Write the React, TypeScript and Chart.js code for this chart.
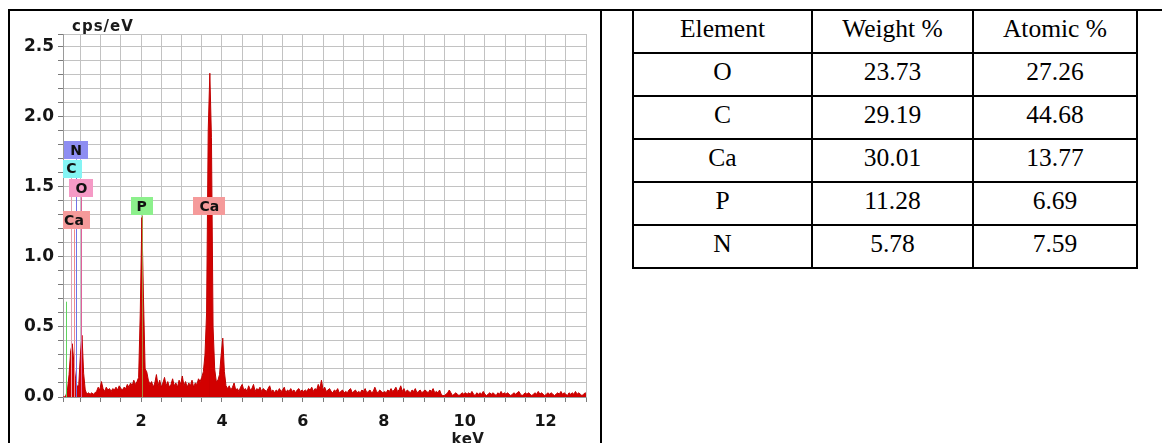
import React, { useEffect, useRef } from 'react';
import { Chart, registerables } from 'chart.js';

Chart.register(...registerables);

// ---- EDS spectrum (cps/eV per 0.04 keV channel, first channel at 0.06 keV) ----
const channelStartKeV = 0.06;
const channelWidthKeV = 0.04;
const countsPerEV = [
  // 0.06 - 1.02 keV
  0, 0, 0.01, 0.05, 0.16, 0.33, 0.38, 0.24, 0.13, 0.07, 0.09, 0.30, 0.44, 0.17, 0.05, 0.02, 0.03, 0.02, 0.03, 0.02, 0.03, 0.04, 0.07, 0.05, 0.11,
  // 1.06 - 2.02
  0.06, 0.04, 0.07, 0.05, 0.06, 0.04, 0.06, 0.05, 0.07, 0.05, 0.08, 0.06, 0.05, 0.07, 0.06, 0.09, 0.07, 0.10, 0.08, 0.12, 0.09, 0.11, 0.14, 0.60, 1.28,
  // 2.06 - 3.02
  0.70, 0.20, 0.18, 0.12, 0.09, 0.11, 0.07, 0.10, 0.16, 0.08, 0.12, 0.07, 0.10, 0.14, 0.08, 0.11, 0.07, 0.09, 0.13, 0.08, 0.10, 0.07, 0.12, 0.09, 0.15,
  // 3.06 - 4.02
  0.08, 0.11, 0.07, 0.10, 0.08, 0.12, 0.07, 0.10, 0.09, 0.13, 0.11, 0.14, 0.18, 0.30, 0.60, 1.90, 2.31, 1.85, 0.50, 0.20, 0.11, 0.12, 0.16, 0.30, 0.42,
  // 4.06 - 5.02
  0.18, 0.08, 0.06, 0.08, 0.05, 0.07, 0.10, 0.05, 0.06, 0.04, 0.07, 0.09, 0.05, 0.06, 0.04, 0.08, 0.05, 0.06, 0.09, 0.04, 0.06, 0.05, 0.07, 0.04, 0.06,
  // 5.06 - 6.02
  0.05, 0.04, 0.06, 0.08, 0.04, 0.05, 0.03, 0.05, 0.04, 0.06, 0.04, 0.05, 0.07, 0.03, 0.05, 0.04, 0.06, 0.04, 0.05, 0.03, 0.05, 0.06, 0.04, 0.05, 0.04,
  // 6.06 - 7.02
  0.05, 0.04, 0.06, 0.05, 0.07, 0.04, 0.06, 0.05, 0.09, 0.06, 0.12, 0.05, 0.07, 0.04, 0.05, 0.06, 0.04, 0.03, 0.05, 0.04, 0.06, 0.03, 0.04, 0.05, 0.03,
  // 7.06 - 8.02
  0.04, 0.03, 0.05, 0.06, 0.03, 0.04, 0.05, 0.03, 0.04, 0.03, 0.05, 0.04, 0.06, 0.03, 0.04, 0.05, 0.03, 0.04, 0.07, 0.04, 0.03, 0.05, 0.04, 0.03, 0.04,
  // 8.06 - 9.02
  0.03, 0.05, 0.04, 0.06, 0.04, 0.05, 0.07, 0.04, 0.05, 0.08, 0.04, 0.06, 0.03, 0.05, 0.04, 0.03, 0.05, 0.04, 0.06, 0.03, 0.04, 0.05, 0.03, 0.04, 0.05,
  // 9.06 - 10.02
  0.04, 0.03, 0.05, 0.04, 0.06, 0.03, 0.04, 0.03, 0.05, 0.02, 0.01, 0.01, 0.02, 0.03, 0.05, 0.03, 0.01, 0.02, 0.03, 0.02, 0.01, 0.02, 0.03, 0.02, 0.03,
  // 10.06 - 11.02
  0.02, 0.03, 0.02, 0.04, 0.02, 0.01, 0.03, 0.02, 0.03, 0.02, 0.04, 0.02, 0.01, 0.02, 0.03, 0.02, 0.03, 0.02, 0.01, 0.03, 0.02, 0.04, 0.02, 0.03, 0.02,
  // 11.06 - 12.02
  0.03, 0.02, 0.01, 0.02, 0.03, 0.02, 0.03, 0.04, 0.02, 0.01, 0.02, 0.03, 0.02, 0.03, 0.02, 0.01, 0.02, 0.03, 0.02, 0.04, 0.02, 0.03, 0.02, 0.01, 0.02,
  // 12.06 - 13.02
  0.03, 0.02, 0.03, 0.02, 0.01, 0.02, 0.03, 0.02, 0.04, 0.02, 0.03, 0.02, 0.01, 0.03, 0.02, 0.03, 0.02, 0.04, 0.02, 0.03, 0.02, 0.01, 0.02, 0.03, 0.02,
];

// ---- axes ----
const xRangeKeV = [0.07, 13];
const yRangeCps = [0, 2.59];
const xGridStepKeV = 0.5;
const yGridStepCps = 0.1;
const xTickLabels = [2, 4, 6, 8, 10, 12];
const yTickLabels = [0, 0.5, 1, 1.5, 2, 2.5];
const yAxisTitle = 'cps/eV';
const xAxisTitle = 'keV';

// ---- element line markers ----
const markerLabels = ['', 'C', 'Ca', 'N', 'O', 'P', 'Ca'];
const markerKeV = [0.14, 0.277, 0.341, 0.392, 0.525, 2.013, 3.69];
const markerLabelCps = [0.68, 1.63, 1.26, 1.76, 1.49, 1.36, 1.36];
const markerBoxColors = ['', '#84f4f4', '#f59a9a', '#8e8ef2', '#f59ac6', '#8cf08c', '#f59a9a'];
const markerLineColors = ['#5fd35f', '#e3a0b0', '#f08a8a', '#7272e6', '#e0609c', '#a89040', '#cc0000'];

// ---- quantification table ----
const tableHeader = ['Element', 'Weight %', 'Atomic %'];
const elementNames = ['O', 'C', 'Ca', 'P', 'N'];
const weightPercent = ['23.73', '29.19', '30.01', '11.28', '5.78'];
const atomicPercent = ['27.26', '44.68', '13.77', '6.69', '7.59'];

const SANS = '"DejaVu Sans", Verdana, sans-serif';

const markerPlugin = {
  id: 'edsMarkers',
  afterDatasetsDraw(chart: any) {
    const { ctx, chartArea: a, scales } = chart;
    const x = scales.x;
    const y = scales.y;
    ctx.save();
    ctx.beginPath();
    ctx.rect(a.left, a.top, a.right - a.left, a.bottom - a.top);
    ctx.clip();
    const base = y.getPixelForValue(0);
    const boxH = 18;
    ctx.font = `bold 14px ${SANS}`;
    markerKeV.forEach((e, i) => {
      const px = Math.round(x.getPixelForValue(e)) + 0.5;
      const cy = y.getPixelForValue(markerLabelCps[i]);
      const top = markerLabels[i] ? cy + boxH / 2 : cy;
      ctx.strokeStyle = markerLineColors[i];
      ctx.lineWidth = 1;
      ctx.beginPath();
      ctx.moveTo(px, base);
      ctx.lineTo(px, top);
      ctx.stroke();
    });
    markerKeV.forEach((e, i) => {
      if (!markerLabels[i]) return;
      const px = x.getPixelForValue(e);
      const cy = y.getPixelForValue(markerLabelCps[i]);
      const w = Math.round(ctx.measureText(markerLabels[i]).width + 12);
      ctx.fillStyle = markerBoxColors[i];
      ctx.fillRect(Math.round(px - w / 2), Math.round(cy - boxH / 2), w, boxH);
      ctx.fillStyle = '#111';
      ctx.textAlign = 'center';
      ctx.textBaseline = 'middle';
      ctx.fillText(markerLabels[i], px, cy + 1);
    });
    ctx.restore();
  },
  afterDraw(chart: any) {
    const { ctx } = chart;
    ctx.save();
    ctx.fillStyle = '#1a1a1a';
    ctx.font = `bold 15px ${SANS}`;
    try { (ctx as any).letterSpacing = '1px'; } catch (e) {}
    ctx.textAlign = 'left';
    ctx.textBaseline = 'alphabetic';
    ctx.fillText(yAxisTitle, 72, 31);
    try { (ctx as any).letterSpacing = '0.5px'; } catch (e) {}
    ctx.font = `bold 15px ${SANS}`;
    ctx.textAlign = 'center';
    ctx.fillText(xAxisTitle, 468, 444);
    ctx.restore();
  },
};

function EdsChart() {
  const ref = useRef<HTMLCanvasElement | null>(null);
  useEffect(() => {
    if (!ref.current) return;
    const points = countsPerEV.map((c, i) => ({
      x: Math.round((channelStartKeV + i * channelWidthKeV) * 100) / 100,
      y: c,
    }));
    const chart = new Chart(ref.current, {
      type: 'line',
      data: {
        datasets: [
          {
            data: points,
            borderColor: '#c00000',
            backgroundColor: '#d20000',
            borderWidth: 1,
            pointRadius: 0,
            tension: 0,
            fill: 'origin',
          },
        ],
      },
      options: {
        animation: false,
        responsive: false,
        devicePixelRatio: 1,
        layout: { padding: { left: 0, top: 34, right: 14, bottom: 0 } },
        plugins: { legend: { display: false }, tooltip: { enabled: false }, title: { display: false } },
        scales: {
          x: {
            type: 'linear',
            min: xRangeKeV[0],
            max: xRangeKeV[1],
            afterBuildTicks: (scale: any) => {
              const t: any[] = [{ value: xRangeKeV[0] }];
              for (let k = 1; k * xGridStepKeV <= xRangeKeV[1] + 1e-9; k++) {
                t.push({ value: Math.round(k * xGridStepKeV * 100) / 100 });
              }
              scale.ticks = t;
            },
            afterFit: (scale: any) => { scale.height = 46; },
            ticks: {
              autoSkip: false,
              maxRotation: 0,
              minRotation: 0,
              padding: 10,
              color: '#151515',
              font: { family: SANS, weight: 'bold', size: 16 },
              callback: (v: any) => {
                const n = Math.round(Number(v) * 100) / 100;
                return xTickLabels.includes(n) ? String(n) : '';
              },
            },
            grid: { color: '#c2c2c2', tickColor: '#7a7a7a', tickLength: 5, lineWidth: 1 },
            border: { color: '#9a9a9a' },
          },
          y: {
            type: 'linear',
            min: yRangeCps[0],
            max: yRangeCps[1],
            afterBuildTicks: (scale: any) => {
              const t: any[] = [];
              for (let k = 0; k * yGridStepCps <= yRangeCps[1] - 0.05; k++) {
                t.push({ value: Math.round(k * yGridStepCps * 100) / 100 });
              }
              t.push({ value: yRangeCps[1] });
              scale.ticks = t;
            },
            afterFit: (scale: any) => { scale.width = 63; },
            ticks: {
              autoSkip: false,
              padding: 4,
              color: '#151515',
              font: { family: SANS, weight: 'bold', size: 17 },
              callback: (v: any) => {
                const n = Number(v);
                return yTickLabels.some((l) => Math.abs(l - n) < 1e-6) ? n.toFixed(1) : '';
              },
            },
            grid: { color: '#c2c2c2', tickColor: '#7a7a7a', tickLength: 5, lineWidth: 1 },
            border: { color: '#9a9a9a' },
          },
        },
      } as any,
      plugins: [markerPlugin as any],
    });
    return () => chart.destroy();
  }, []);
  return <canvas ref={ref} width={600} height={443} style={{ position: 'absolute', left: 0, top: 0 }} />;
}

const colWidths = [177, 159, 162];
const rowContentHeight = 41;
const line = '2px solid #000';

function CompositionTable() {
  const rows = [tableHeader, ...elementNames.map((el, i) => [el, weightPercent[i], atomicPercent[i]])];
  return (
    <table
      style={{
        position: 'absolute',
        left: 632,
        top: 9,
        borderCollapse: 'separate',
        borderSpacing: 0,
        borderLeft: line,
        borderTop: line,
        fontFamily: '"Liberation Serif", "Times New Roman", serif',
        fontSize: '25.5px',
        color: '#000',
      }}
    >
      <tbody>
        {rows.map((r, ri) => (
          <tr key={ri}>
            {r.map((c, ci) => (
              <td key={ci} style={{ padding: 0, borderRight: line, borderBottom: line }}>
                <div
                  style={{
                    width: colWidths[ci],
                    height: rowContentHeight,
                    boxSizing: 'border-box',
                    paddingTop: 3,
                    lineHeight: '29px',
                    textAlign: 'center',
                    whiteSpace: 'nowrap',
                  }}
                >
                  {c}
                </div>
              </td>
            ))}
          </tr>
        ))}
      </tbody>
    </table>
  );
}

export default function App() {
  return (
    <div style={{ position: 'absolute', left: 0, top: 0, width: 1162, height: 443, background: '#fff', overflow: 'hidden' }}>
      <div style={{ position: 'absolute', left: 8, top: 9, width: 1154, height: 2, background: '#000' }} />
      <div style={{ position: 'absolute', left: 8, top: 9, width: 2, height: 434, background: '#000' }} />
      <div style={{ position: 'absolute', left: 600, top: 9, width: 2, height: 434, background: '#000' }} />
      <EdsChart />
      <CompositionTable />
    </div>
  );
}
